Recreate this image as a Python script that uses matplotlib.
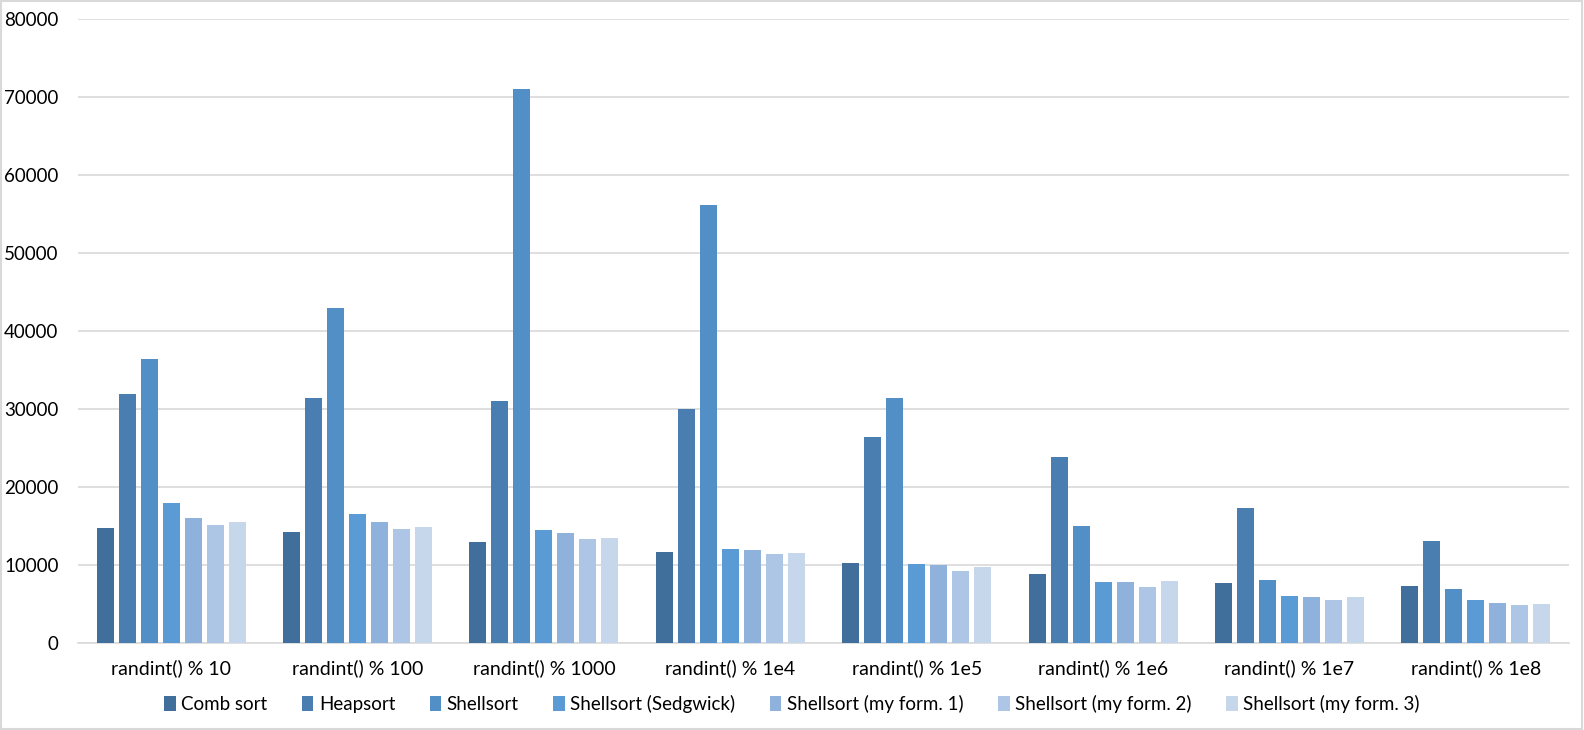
import matplotlib.pyplot as plt
import numpy as np
from matplotlib.patches import Rectangle

plt.rcParams['font.family'] = ['Lato', 'DejaVu Sans']

categories = ["randint() % 10", "randint() % 100", "randint() % 1000", "randint() % 1e4",
              "randint() % 1e5", "randint() % 1e6", "randint() % 1e7", "randint() % 1e8"]

comb_sort = [14760, 14250, 12970, 11670, 10300, 8890, 7740, 7350]
heapsort = [31890, 31370, 31050, 29990, 26450, 23890, 17350, 13120]
shellsort = [36390, 42950, 71020, 56170, 31450, 15040, 8120, 6970]
shell_sedgewick = [17980, 16570, 14510, 12050, 10170, 7860, 6070, 5560]
shell_form1 = [16050, 15540, 14130, 11960, 9960, 7860, 5940, 5170]
shell_form2 = [15150, 14640, 13360, 11430, 9270, 7220, 5560, 4910]
shell_form3 = [15540, 14890, 13500, 11570, 9790, 7990, 5940, 5040]

series_names = ["Comb sort", "Heapsort", "Shellsort", "Shellsort (Sedgwick)",
                "Shellsort (my form. 1)", "Shellsort (my form. 2)", "Shellsort (my form. 3)"]
series = [comb_sort, heapsort, shellsort, shell_sedgewick, shell_form1, shell_form2, shell_form3]
colors = ["#416F9B", "#4A7EB0", "#528FC6", "#5B9BD5", "#8FB2DC", "#ADC6E5", "#C6D7EC"]

fig = plt.figure(figsize=(15.84, 7.30), dpi=100)
ax = fig.add_axes([78 / 1584, 1 - 643 / 730, (1569 - 78) / 1584, (643 - 19) / 730])

x = np.arange(len(categories))
pitch = 0.118
width = 0.091
for i, (name, vals) in enumerate(zip(series_names, series)):
    ax.bar(x + (i - 3) * pitch, vals, width, color=colors[i], label=name, zorder=3)

ax.set_xlim(-0.5, len(categories) - 0.5)
ax.set_ylim(0, 80000)
ax.set_yticks(np.arange(0, 80001, 10000))
ax.set_xticks(x)
ax.set_xticklabels(categories)
ax.grid(axis='y', color='#D9D9D9', linewidth=1.2, zorder=0)
for side in ['top', 'right', 'left']:
    ax.spines[side].set_visible(False)
ax.spines['bottom'].set_color('#D9D9D9')
ax.spines['bottom'].set_linewidth(1.2)
ax.tick_params(axis='both', length=0, colors='#000000')
ax.tick_params(axis='x', pad=12, labelsize=14)
ax.tick_params(axis='y', pad=14, labelsize=13.5)

leg = fig.legend(loc='center', bbox_to_anchor=(0.5, 1 - 704 / 730), ncol=7, frameon=False,
                 fontsize=13.5, handlelength=0.6, handleheight=0.9, handletextpad=0.3,
                 columnspacing=1.85)

# light chart border
fig.patches.append(Rectangle((0.0005, 0.001), 0.998, 0.997, transform=fig.transFigure,
                             fill=False, edgecolor='#D9D9D9', linewidth=1.5))

fig.savefig("out.png", dpi=100)
